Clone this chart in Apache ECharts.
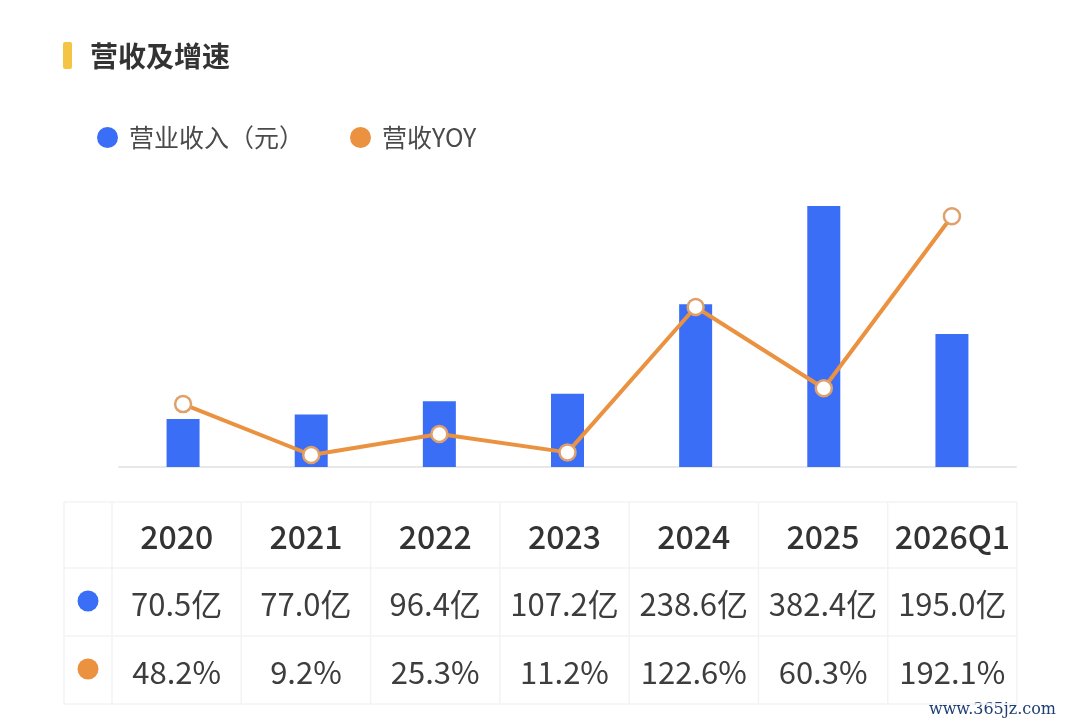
<!DOCTYPE html>
<html>
<head>
<meta charset="utf-8">
<script src="https://cdn.jsdelivr.net/npm/echarts@6/dist/echarts.min.js"></script>
<style>
  html, body { margin: 0; padding: 0; background: #fff; }
  #main { width: 1080px; height: 724px; }
</style>
</head>
<body>
<div id="main"></div>
<script>
// 数据
const categories = ['2020', '2021', '2022', '2023', '2024', '2025', '2026Q1'];
const revenue = [70.5, 77.0, 96.4, 107.2, 238.6, 382.4, 195.0]; // 亿元
const revenueYoy = [48.2, 9.2, 25.3, 11.2, 122.6, 60.3, 192.1]; // %
const seriesNames = ['营业收入（元）', '营收YOY'];

const BLUE = '#3B6EF6';
const ORANGE = '#EA9240';
const FONT = '"Noto Sans CJK SC", "Noto Sans", sans-serif';

const chart = echarts.init(document.getElementById('main'));

// 下方表格（由数组生成）
const tableLeft = 64, tableRight = 1017, firstCol = 112;
const rowEdges = [502, 568, 636, 704];
const colW = (tableRight - firstCol) / categories.length;
const lineColor = '#F3F3F3';
const table = [];

rowEdges.forEach(y => {
  table.push({ type: 'line', shape: { x1: tableLeft, y1: y, x2: tableRight, y2: y }, style: { stroke: lineColor, lineWidth: 1.5 } });
});
[tableLeft].concat(categories.map((c, i) => firstCol + colW * i), [tableRight]).forEach(x => {
  table.push({ type: 'line', shape: { x1: x, y1: rowEdges[0], x2: x, y2: rowEdges[3] }, style: { stroke: lineColor, lineWidth: 1.5 } });
});

const rows = [
  { vals: categories, size: 32, weight: 500, color: '#333' },
  { vals: revenue.map(v => v.toFixed(1) + '亿'), size: 31, weight: 400, color: '#3d3d3d', dot: BLUE },
  { vals: revenueYoy.map(v => v.toFixed(1) + '%'), size: 31, weight: 400, color: '#3d3d3d', dot: ORANGE }
];
rows.forEach((r, ri) => {
  const cy = (rowEdges[ri] + rowEdges[ri + 1]) / 2 + 2;
  if (r.dot) {
    table.push({ type: 'circle', shape: { cx: 88, cy: cy - 3, r: 10.5 }, style: { fill: r.dot } });
  }
  r.vals.forEach((t, i) => {
    table.push({
      type: 'text',
      x: firstCol + colW * (i + 0.5),
      y: cy,
      style: { text: t, fontSize: r.size, fontWeight: r.weight, fill: r.color, fontFamily: FONT, align: 'center', verticalAlign: 'middle' }
    });
  });
});

const option = {
  backgroundColor: '#fff',
  animation: false,
  graphic: [
    { type: 'rect', shape: { x: 63, y: 42, width: 9, height: 27, r: 2 }, style: { fill: '#F4C544' } },
    { type: 'text', x: 90, y: 56, style: { text: '营收及增速', fontSize: 28, fontWeight: 'bold', fill: '#333', fontFamily: FONT, verticalAlign: 'middle' } },
    { type: 'text', right: 24, bottom: 6, style: { text: 'www.365jz.com', fontSize: 16, fill: '#1E3E74', fontFamily: '"DejaVu Serif", serif' } }
  ].concat(table),
  legend: {
    left: 92,
    top: 120,
    icon: 'circle',
    itemWidth: 21,
    itemHeight: 21,
    itemGap: 46,
    data: [
      { name: seriesNames[0], itemStyle: { color: BLUE } },
      { name: seriesNames[1], itemStyle: { color: ORANGE, borderWidth: 0 } }
    ],
    textStyle: { fontSize: 25, color: '#4a4a4a', fontFamily: FONT, padding: [0, 0, 0, 6] }
  },
  grid: { left: 119, right: 64, top: 206, height: 261 },
  xAxis: {
    type: 'category',
    data: categories,
    boundaryGap: true,
    axisLine: { lineStyle: { color: '#E8E8E8', width: 2 } },
    axisTick: { show: false },
    axisLabel: { show: false }
  },
  yAxis: [
    { type: 'value', min: 0, max: 382.4, show: false, splitLine: { show: false } },
    { type: 'value', min: 0, max: 200, show: false, splitLine: { show: false } }
  ],
  series: [
    {
      name: seriesNames[0],
      type: 'bar',
      data: revenue,
      barWidth: 33,
      itemStyle: { color: BLUE }
    },
    {
      name: seriesNames[1],
      type: 'line',
      yAxisIndex: 1,
      data: revenueYoy,
      z: 5,
      symbol: 'circle',
      symbolSize: 16,
      lineStyle: { color: ORANGE, width: 4 },
      itemStyle: { color: '#fff', borderColor: '#DFA06A', borderWidth: 2.5 }
    }
  ]
};

chart.setOption(option);
</script>
</body>
</html>
